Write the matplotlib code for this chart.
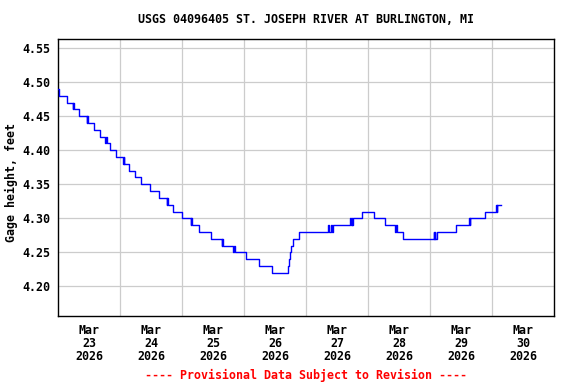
import matplotlib
matplotlib.use("Agg")
import matplotlib.pyplot as plt
import matplotlib.dates as mdates
import pandas as pd
import numpy as np

title = "USGS 04096405 ST. JOSEPH RIVER AT BURLINGTON, MI"
ylabel = "Gage height, feet"
footer = "---- Provisional Data Subject to Revision ----"

# Gage height change points (value holds until next time)
times = [
    "2026-03-23 00:00", "2026-03-23 00:15", "2026-03-23 03:15", "2026-03-23 05:30",
    "2026-03-23 05:45", "2026-03-23 06:00", "2026-03-23 08:00", "2026-03-23 11:00",
    "2026-03-23 11:15", "2026-03-23 11:30", "2026-03-23 14:00", "2026-03-23 16:00",
    "2026-03-23 18:15", "2026-03-23 18:30", "2026-03-23 18:45", "2026-03-23 20:00",
    "2026-03-23 22:15", "2026-03-24 01:00", "2026-03-24 01:15", "2026-03-24 01:30",
    "2026-03-24 03:30", "2026-03-24 05:45", "2026-03-24 08:00", "2026-03-24 11:30",
    "2026-03-24 15:00", "2026-03-24 18:00", "2026-03-24 18:15", "2026-03-24 18:30",
    "2026-03-24 20:15", "2026-03-25 00:00", "2026-03-25 03:15", "2026-03-25 03:30",
    "2026-03-25 03:45", "2026-03-25 06:30", "2026-03-25 11:00", "2026-03-25 15:15",
    "2026-03-25 15:30", "2026-03-25 15:45", "2026-03-25 19:45", "2026-03-25 20:00",
    "2026-03-25 20:15", "2026-03-26 00:30", "2026-03-26 05:30", "2026-03-26 10:45",
    "2026-03-26 16:45", "2026-03-26 17:15", "2026-03-26 17:45", "2026-03-26 18:15",
    "2026-03-26 19:00", "2026-03-26 21:15", "2026-03-27 08:30", "2026-03-27 08:45",
    "2026-03-27 09:45", "2026-03-27 10:00", "2026-03-27 10:15", "2026-03-27 17:00",
    "2026-03-27 17:15", "2026-03-27 17:30", "2026-03-27 17:45", "2026-03-27 18:15",
    "2026-03-27 21:45", "2026-03-28 02:15", "2026-03-28 06:30", "2026-03-28 10:30",
    "2026-03-28 10:45", "2026-03-28 11:00", "2026-03-28 13:30", "2026-03-29 01:15",
    "2026-03-29 01:30", "2026-03-29 01:45", "2026-03-29 02:00", "2026-03-29 02:30",
    "2026-03-29 10:00", "2026-03-29 15:00", "2026-03-29 15:15", "2026-03-29 15:30",
    "2026-03-29 21:00", "2026-03-30 01:30", "2026-03-30 01:45", "2026-03-30 02:00",
    "2026-03-30 03:15",
]
heights = [
    4.49, 4.48, 4.47, 4.46,
    4.47, 4.46, 4.45, 4.44,
    4.45, 4.44, 4.43, 4.42,
    4.41, 4.42, 4.41, 4.40,
    4.39, 4.38, 4.39, 4.38,
    4.37, 4.36, 4.35, 4.34,
    4.33, 4.32, 4.33, 4.32,
    4.31, 4.30, 4.29, 4.30,
    4.29, 4.28, 4.27, 4.26,
    4.27, 4.26, 4.25, 4.26,
    4.25, 4.24, 4.23, 4.22,
    4.23, 4.24, 4.25, 4.26,
    4.27, 4.28, 4.29, 4.28,
    4.29, 4.28, 4.29, 4.30,
    4.29, 4.30, 4.29, 4.30,
    4.31, 4.30, 4.29, 4.28,
    4.29, 4.28, 4.27, 4.28,
    4.27, 4.28, 4.27, 4.28,
    4.29, 4.30, 4.29, 4.30,
    4.31, 4.32, 4.31, 4.32,
    4.32,
]
ytick_values = [4.20, 4.25, 4.30, 4.35, 4.40, 4.45, 4.50, 4.55]
day_labels = ["Mar\n23\n2026", "Mar\n24\n2026", "Mar\n25\n2026", "Mar\n26\n2026",
              "Mar\n27\n2026", "Mar\n28\n2026", "Mar\n29\n2026", "Mar\n30\n2026"]

t = pd.to_datetime(times)
start = pd.Timestamp("2026-03-23 00:00")
end = pd.Timestamp("2026-03-31 00:00")

font = {"family": "DejaVu Sans Mono", "weight": "bold", "size": 8.4}

fig = plt.figure(figsize=(5.76, 3.84), dpi=100)
ax = fig.add_axes([58.3 / 576, (384 - 315.7) / 384, 496 / 576, (315.7 - 39.3) / 384])

ax.plot(t, heights, drawstyle="steps-post", color="#0000FF", lw=1.0, zorder=3)

ax.set_xlim(start, end)
ax.set_ylim(4.157, 4.563)

noons = [start + pd.Timedelta(hours=12) + pd.Timedelta(days=i) for i in range(8)]
mids = [start + pd.Timedelta(days=i) for i in range(1, 8)]
ax.set_xticks(noons)
ax.set_xticklabels(day_labels, fontdict=font, linespacing=1.0)
ax.set_xticks(mids, minor=True)
ax.set_yticks(ytick_values)
ax.set_yticklabels([f"{v:.2f}" for v in ytick_values], fontdict=font)

ax.tick_params(axis="both", which="both", length=0)
ax.tick_params(axis="x", pad=6)
ax.tick_params(axis="y", pad=6)

ax.grid(False)
ax.xaxis.grid(True, which="minor", color="#CCCCCC", lw=0.9)
ax.yaxis.grid(True, which="major", color="#CCCCCC", lw=0.9)
ax.set_axisbelow(True)
for s in ax.spines.values():
    s.set_color("black")
    s.set_linewidth(1.0)

fig.text(306.3 / 576, 1 - 19.5 / 384, title, ha="center", va="center", **font)
fig.text(11 / 576, 1 - 183 / 384, ylabel, ha="center", va="center", rotation=90, **font)
fig.text(306.3 / 576, 1 - 375.5 / 384, footer, ha="center", va="center", color="#FF0000", **font)

fig.savefig("out.png", dpi=100)
